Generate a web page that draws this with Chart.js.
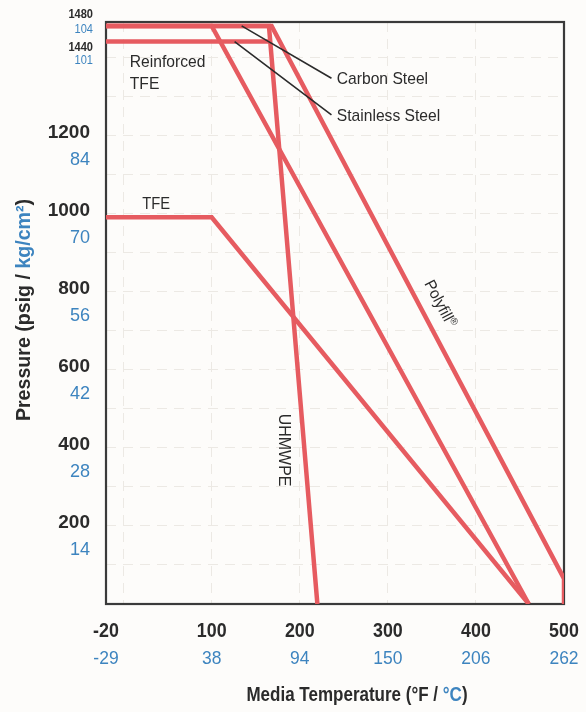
<!DOCTYPE html>
<html>
<head>
<meta charset="utf-8">
<script src="https://cdn.jsdelivr.net/npm/chart.js@4.4.1/dist/chart.umd.min.js"></script>
<style>
html, body { margin: 0; padding: 0; background: #fdfcfa; }
#wrap { width: 586px; height: 712px; position: relative; }
</style>
</head>
<body>
<div id="wrap"><canvas id="chart"></canvas></div>
<script>
// Temperature axis: °F ticks with their °C equivalents
const tempTicksF = [-20, 100, 200, 300, 400, 500];
const tempTicksC = ['-29', '38', '94', '150', '206', '262'];
// Pressure axis: psig ticks with their kg/cm² equivalents
const pressTicksPsig = [200, 400, 600, 800, 1000, 1200, 1440, 1480];
const pressTicksKg = ['14', '28', '42', '56', '70', '84', '101', '104'];

// Polyfill® seat (flat part is the carbon steel body rating)
const polyfillTemp = [-20, 168, 500, 500];
const polyfillPsig = [1480, 1480, 65, 0];
// Stainless steel body rating
const stainlessTemp = [-20, 167];
const stainlessPsig = [1440, 1440];
// Reinforced TFE seat
const reinforcedTfeTemp = [-20, 100, 460];
const reinforcedTfePsig = [1480, 1480, 0];
// UHMWPE seat
const uhmwpeTemp = [-20, 165, 220];
const uhmwpePsig = [1480, 1480, 0];
// TFE seat
const tfeTemp = [-20, 100, 460];
const tfePsig = [990, 990, 0];

const RED = '#e65b60';
const INK = '#2b2b2b';
const BLUE = '#3d84bf';
const FRAME = '#3a3a3a';
const GRID = '#ecE9e4';
const FONT = '"Liberation Sans", Arial, sans-serif';

const pts = (xs, ys) => xs.map((x, i) => ({ x, y: ys[i] }));

function txt(ctx, s, x, y, o) {
  ctx.save();
  ctx.translate(x, y);
  if (o.rot) ctx.rotate(o.rot);
  ctx.scale(o.sx || 1, 1);
  ctx.font = o.font;
  ctx.fillStyle = o.color;
  ctx.textAlign = o.align || 'left';
  ctx.textBaseline = 'middle';
  ctx.fillText(s, 0, 0);
  ctx.restore();
}

// Several coloured pieces of text set as one line, centred on (x, y)
function run(ctx, parts, x, y, font, sx, rot) {
  ctx.save();
  ctx.translate(x, y);
  if (rot) ctx.rotate(rot);
  ctx.scale(sx, 1);
  ctx.textBaseline = 'middle';
  ctx.textAlign = 'left';
  let total = 0;
  for (const p of parts) { ctx.font = p[2] || font; total += ctx.measureText(p[0]).width; }
  let cx = -total / 2;
  for (const p of parts) {
    ctx.font = p[2] || font;
    ctx.fillStyle = p[1];
    ctx.fillText(p[0], cx, p[3] || 0);
    cx += ctx.measureText(p[0]).width;
  }
  ctx.restore();
}

const decorations = {
  id: 'decorations',
  beforeDraw(chart) {
    const ctx = chart.ctx;
    ctx.save();
    ctx.fillStyle = '#fdfcfa';
    ctx.fillRect(0, 0, chart.width, chart.height);
    ctx.restore();
  },
  beforeDatasetsDraw(chart) {
    const ctx = chart.ctx, a = chart.chartArea;
    ctx.save();
    ctx.strokeStyle = FRAME;
    ctx.lineWidth = 2.2;
    ctx.strokeRect(a.left, a.top, a.right - a.left, a.bottom - a.top);
    ctx.restore();
  },
  afterDatasetsDraw(chart) {
    const ctx = chart.ctx;
    const xs = chart.scales.x, ys = chart.scales.y;
    const px = v => xs.getPixelForValue(v);
    const py = v => ys.getPixelForValue(v);

    // leader lines to the body-material labels
    ctx.save();
    ctx.strokeStyle = INK;
    ctx.lineWidth = 1.6;
    ctx.beginPath();
    ctx.moveTo(px(134), py(1480)); ctx.lineTo(px(236), py(1346));
    ctx.moveTo(px(126), py(1440)); ctx.lineTo(px(236), py(1252));
    ctx.stroke();
    ctx.restore();

    const ann = '17px ' + FONT;
    txt(ctx, 'Carbon Steel', px(242), py(1342), { font: ann, color: INK, sx: 0.92 });
    txt(ctx, 'Stainless Steel', px(242), py(1248), { font: ann, color: INK, sx: 0.92 });
    txt(ctx, 'Reinforced', px(7), py(1387), { font: ann, color: INK, sx: 0.92 });
    txt(ctx, 'TFE', px(7), py(1331), { font: ann, color: INK, sx: 0.92 });
    txt(ctx, 'TFE', px(37), py(1022), { font: '16px ' + FONT, color: INK, sx: 0.92, align: 'center' });

    // seat names set along their curves
    const slope = Math.atan2(py(polyfillPsig[2]) - py(polyfillPsig[1]), px(polyfillTemp[2]) - px(polyfillTemp[1]));
    run(ctx, [['Polyfill', INK], ['®', INK, '10px ' + FONT, -4]], px(359), py(768), '16px ' + FONT, 0.95, slope);
    run(ctx, [['UHMWPE', INK]], px(181), py(394), '16px ' + FONT, 1.0, Math.PI / 2);

    // temperature tick labels, °F over °C
    tempTicksF.forEach((v, i) => {
      txt(ctx, String(v), px(v), 631, { font: 'bold 21px ' + FONT, color: INK, sx: 0.85, align: 'center' });
      txt(ctx, tempTicksC[i], px(v), 659, { font: '19px ' + FONT, color: BLUE, sx: 0.92, align: 'center' });
    });

    // pressure tick labels, psig over kg/cm²
    pressTicksPsig.forEach((v, i) => {
      const y = py(v);
      if (v >= 1440) {
        const top = v === 1480;
        txt(ctx, String(v), 93, y + (top ? -11 : 6), { font: 'bold 12px ' + FONT, color: INK, sx: 0.92, align: 'right' });
        txt(ctx, pressTicksKg[i], 93, y + (top ? 4 : 19), { font: '12px ' + FONT, color: BLUE, sx: 0.92, align: 'right' });
      } else {
        txt(ctx, String(v), 90, y - 3, { font: 'bold 19px ' + FONT, color: INK, sx: 1.0, align: 'right' });
        txt(ctx, pressTicksKg[i], 90, y + 24, { font: '19px ' + FONT, color: BLUE, sx: 0.95, align: 'right' });
      }
    });

    // axis titles
    run(ctx, [['Media Temperature (°F / ', INK], ['°C', BLUE], [')', INK]], 357, 695, 'bold 20px ' + FONT, 0.85, 0);
    run(ctx, [['Pressure (psig / ', INK], ['kg/cm²', BLUE], [')', INK]], 24, 310, 'bold 20px ' + FONT, 0.98, -Math.PI / 2);
  }
};

const seat = (label, xs, ys) => ({
  label,
  data: pts(xs, ys),
  borderColor: RED,
  borderWidth: 4.5,
  pointRadius: 0,
  fill: false,
  tension: 0,
  borderJoinStyle: 'miter',
  borderCapStyle: 'butt'
});

new Chart(document.getElementById('chart'), {
  type: 'line',
  data: {
    datasets: [
      seat('Polyfill®', polyfillTemp, polyfillPsig),
      seat('Stainless Steel', stainlessTemp, stainlessPsig),
      seat('Reinforced TFE', reinforcedTfeTemp, reinforcedTfePsig),
      seat('UHMWPE', uhmwpeTemp, uhmwpePsig),
      seat('TFE', tfeTemp, tfePsig)
    ]
  },
  options: {
    responsive: true,
    maintainAspectRatio: false,
    animation: false,
    events: [],
    layout: { padding: { left: 106, right: 22, top: 22, bottom: 108 } },
    plugins: { legend: { display: false }, tooltip: { enabled: false } },
    scales: {
      x: {
        type: 'linear',
        min: -20,
        max: 500,
        afterBuildTicks: s => { s.ticks = [-20, 0, 100, 200, 300, 400, 500].map(value => ({ value })); },
        ticks: { display: false },
        grid: {
          drawTicks: false,
          color: c => (c.tick && c.tick.value > -20 && c.tick.value < 500) ? GRID : 'rgba(0,0,0,0)',
          lineWidth: 1
        },
        border: { display: false, dash: [10, 7] }
      },
      y: {
        type: 'linear',
        min: 0,
        max: 1490,
        afterBuildTicks: s => {
          const t = [];
          for (let v = 0; v <= 1400; v += 100) t.push({ value: v });
          t.push({ value: 1490 });
          s.ticks = t;
        },
        ticks: { display: false },
        grid: {
          drawTicks: false,
          color: c => (c.tick && c.tick.value > 0 && c.tick.value <= 1400) ? GRID : 'rgba(0,0,0,0)',
          lineWidth: 1
        },
        border: { display: false, dash: [10, 7] }
      }
    }
  },
  plugins: [decorations]
});
</script>
</body>
</html>
